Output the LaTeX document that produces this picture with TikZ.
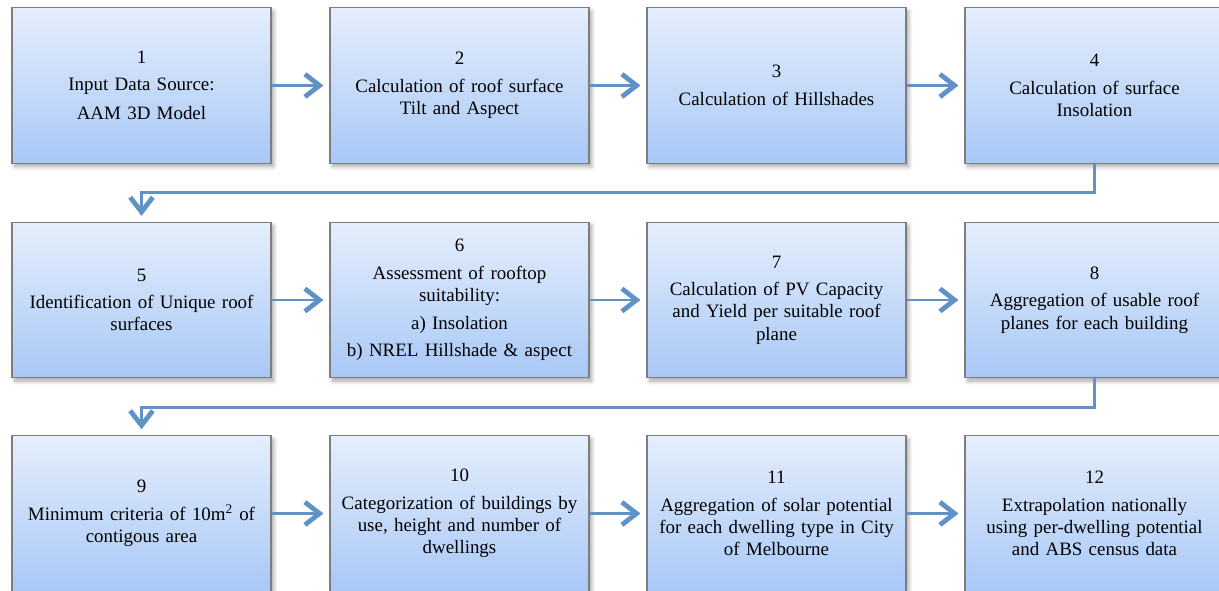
\documentclass[tikz,border=0pt]{standalone}
\usepackage{fontspec}
\setmainfont{Liberation Serif}
\usetikzlibrary{arrows.meta,shadows.blur,calc}
\definecolor{boxtop}{RGB}{229,238,252}
\definecolor{boxbot}{RGB}{168,200,246}
\definecolor{boxline}{RGB}{125,125,125}
\definecolor{arr}{RGB}{96,146,200}
\tikzset{
  stepbox/.style={draw=boxline, line width=0.8pt, top color=boxtop, bottom color=boxbot,
    minimum width=194.25pt, minimum height=116.5pt, inner sep=0pt, align=center,
    text width=190pt, font=\fontsize{14.2}{16.6}\selectfont,
    blur shadow={shadow xshift=2pt, shadow yshift=-2.5pt, shadow opacity=35, shadow blur steps=6, shadow blur radius=3pt}},
  flow/.style={draw=arr, line width=2.2pt, shorten >=4.5pt,
    -{Straight Barb[length=11pt, width=17pt, line width=3.6pt]}},
}
\begin{document}
\begin{tikzpicture}[x=0.75pt, y=-0.75pt]
\useasboundingbox (0,0) rectangle (1219,591);
% row 1
\node[stepbox] (b1) at (141.5,85.5) {1\\[4pt]Input Data Source:\\[5pt]AAM 3D Model};
\node[stepbox] (b2) at (459.5,85.5) {2\\[4pt]Calculation of roof surface\\Tilt and Aspect};
\node[stepbox] (b3) at (776.5,85.5) {3\\[4pt]Calculation of Hillshades};
\node[stepbox] (b4) at (1094.5,85.5) {4\\[4pt]Calculation of surface\\Insolation};
% row 2
\node[stepbox] (b5) at (141.5,300) {5\\[4pt]Identification of Unique roof\\surfaces};
\node[stepbox] (b6) at (459.5,300) {6\\[4pt]Assessment of rooftop\\suitability:\\[4pt]a) Insolation\\[4pt]b) NREL Hillshade \& aspect};
\node[stepbox] (b7) at (776.5,300) {7\\[4pt]Calculation of PV Capacity\\and Yield per suitable roof\\plane};
\node[stepbox] (b8) at (1094.5,300) {8\\[4pt]Aggregation of usable roof\\planes for each building};
% row 3
\node[stepbox] (b9) at (141.5,513.5) {9\\[4pt]Minimum criteria of 10m\textsuperscript{2} of\\contigous area};
\node[stepbox] (b10) at (459.5,513.5) {10\\[4pt]Categorization of buildings by\\use, height and number of\\dwellings};
\node[stepbox] (b11) at (776.5,513.5) {11\\[4pt]Aggregation of solar potential\\for each dwelling type in City\\of Melbourne};
\node[stepbox] (b12) at (1094.5,513.5) {12\\[4pt]Extrapolation nationally\\using per-dwelling potential\\and ABS census data};
% connectors
\draw[flow] (b1) -- (b2);
\draw[flow] (b2) -- (b3);
\draw[flow] (b3) -- (b4);
\draw[flow] (b4.south) -- ++(0,29) -| (b5.north);
\draw[flow] (b5) -- (b6);
\draw[flow] (b6) -- (b7);
\draw[flow] (b7) -- (b8);
\draw[flow] (b8.south) -- ++(0,29) -| (b9.north);
\draw[flow] (b9) -- (b10);
\draw[flow] (b10) -- (b11);
\draw[flow] (b11) -- (b12);
\end{tikzpicture}
\end{document}
